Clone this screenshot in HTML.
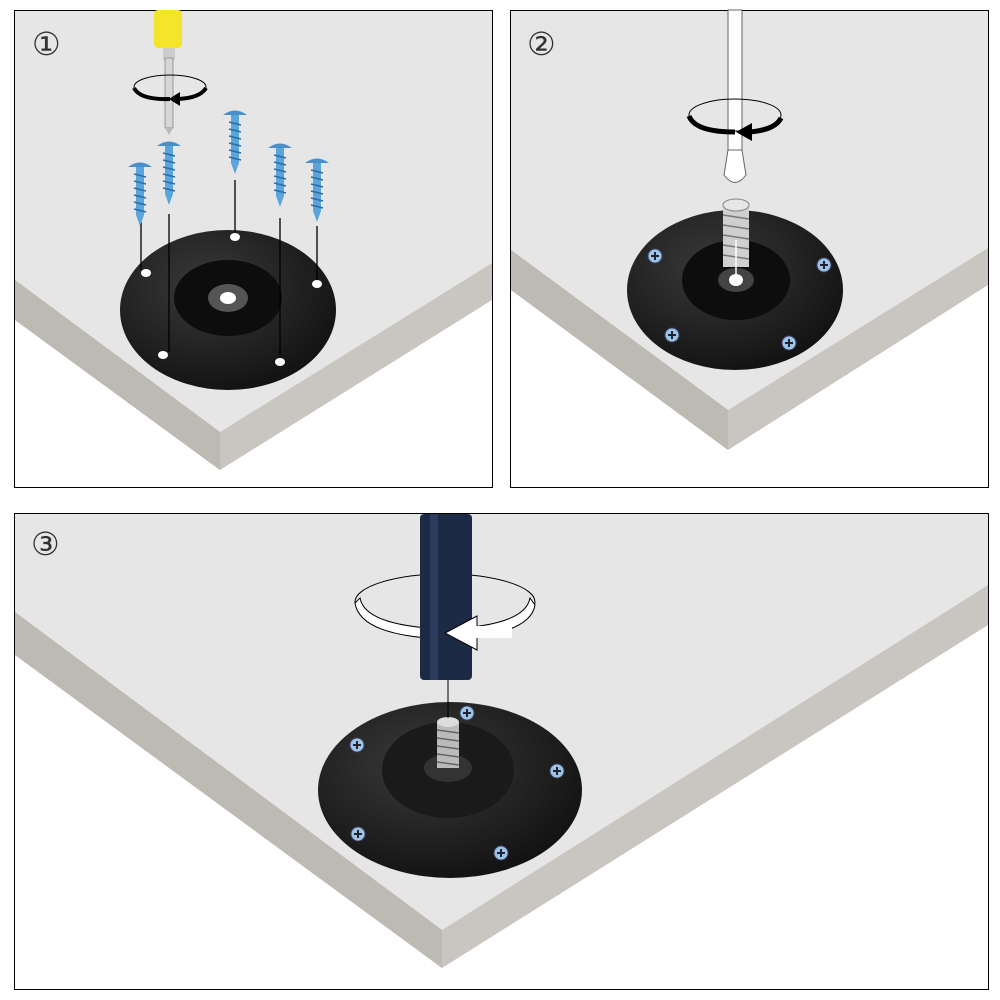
<!DOCTYPE html>
<html><head><style>html,body{margin:0;padding:0;background:#fff}svg{display:block}</style></head><body>
<svg width="1000" height="1000" viewBox="0 0 1000 1000" xmlns="http://www.w3.org/2000/svg">
<defs>
<g id="screw">
 <path d="M-12,3 Q0,-6 12,3 Z" fill="#4a8fc8"/>
 <rect x="-4" y="3" width="8" height="48" fill="#5aa6dc"/>
 <path d="M-4,51 L0,62 L4,51 Z" fill="#5aa6dc"/>
 <g stroke="#2b6ea6" stroke-width="1.5">
  <line x1="-6" y1="10" x2="6" y2="13"/><line x1="-6" y1="17" x2="6" y2="20"/><line x1="-6" y1="24" x2="6" y2="27"/><line x1="-6" y1="31" x2="6" y2="34"/><line x1="-6" y1="38" x2="6" y2="41"/><line x1="-6" y1="45" x2="6" y2="48"/>
 </g>
</g>
<g id="ps">
 <circle r="7" fill="#9cc4e6" stroke="#446" stroke-width="1"/>
 <path d="M-4,0 H4 M0,-4 V4" stroke="#223" stroke-width="2"/>
</g>
<radialGradient id="pl" cx="0.4" cy="0.35" r="0.7"><stop offset="0" stop-color="#3a3a3a"/><stop offset="1" stop-color="#111"/></radialGradient>
</defs>

<!-- Panel 1 -->
<rect x="14.5" y="10.5" width="478" height="477" fill="#fff" stroke="#000"/>
<polygon points="15,11 492,11 492,263 220,432 15,280" fill="#e6e6e6"/>
<polygon points="15,280 220,432 492,263 492,300 220,470 15,320" fill="#c9c5c0"/>
<polygon points="220,432 220,470 15,320 15,280" fill="#bdb9b3"/>
<rect x="14.5" y="10.5" width="478" height="477" fill="none" stroke="#000"/>
<text x="32" y="55" font-family="DejaVu Sans" font-size="32" fill="#333">①</text>
<ellipse cx="228" cy="310" rx="108" ry="80" fill="url(#pl)"/>
<ellipse cx="228" cy="298" rx="54" ry="38" fill="#0d0d0d"/>
<ellipse cx="228" cy="298" rx="20" ry="14" fill="#555"/>
<ellipse cx="228" cy="298" rx="8" ry="6" fill="#fff"/>
<g fill="#fff"><ellipse cx="146" cy="273" rx="5" ry="4"/><ellipse cx="163" cy="355" rx="5" ry="4"/><ellipse cx="235" cy="237" rx="5" ry="4"/><ellipse cx="280" cy="362" rx="5" ry="4"/><ellipse cx="317" cy="284" rx="5" ry="4"/></g>
<g stroke="#000" stroke-width="1.3">
<line x1="141" y1="222" x2="141" y2="270"/><line x1="169" y1="214" x2="169" y2="352"/><line x1="235" y1="180" x2="235" y2="233"/><line x1="280" y1="218" x2="280" y2="358"/><line x1="317" y1="226" x2="317" y2="280"/>
</g>
<use href="#screw" x="140" y="164"/><use href="#screw" x="169" y="143"/><use href="#screw" x="235" y="112"/><use href="#screw" x="280" y="145"/><use href="#screw" x="317" y="160"/>
<rect x="154" y="10" width="28" height="38" rx="4" fill="#f2e52a"/>
<rect x="163" y="48" width="12" height="12" fill="#ccc"/>
<rect x="165" y="58" width="8" height="70" fill="#d6d6d6" stroke="#888" stroke-width="0.8"/>
<path d="M165,128 L169,135 L173,128 Z" fill="#bbb"/>
<ellipse cx="170" cy="87" rx="36" ry="12" fill="none" stroke="#000" stroke-width="1"/>
<path d="M134,88 Q140,100 170,99" fill="none" stroke="#000" stroke-width="4"/>
<path d="M178,99 Q200,98 206,88" fill="none" stroke="#000" stroke-width="4"/>
<path d="M169,99 L180,92 L180,106 Z" fill="#000"/>

<!-- Panel 2 -->
<rect x="510.5" y="10.5" width="478" height="477" fill="#fff" stroke="#000"/>
<polygon points="511,11 988,11 988,248 728,410 511,250" fill="#e6e6e6"/>
<polygon points="511,250 728,410 988,248 988,285 728,450 511,290" fill="#c9c5c0"/>
<polygon points="728,410 728,450 511,290 511,250" fill="#bdb9b3"/>
<rect x="510.5" y="10.5" width="478" height="477" fill="none" stroke="#000"/>
<text x="527" y="55" font-family="DejaVu Sans" font-size="32" fill="#333">②</text>
<ellipse cx="735" cy="290" rx="108" ry="80" fill="url(#pl)"/>
<ellipse cx="736" cy="280" rx="54" ry="40" fill="#0d0d0d"/>
<ellipse cx="736" cy="280" rx="18" ry="12" fill="#444"/>
<ellipse cx="736" cy="280" rx="7" ry="6" fill="#fff"/>
<use href="#ps" x="655" y="256"/><use href="#ps" x="824" y="265"/><use href="#ps" x="672" y="335"/><use href="#ps" x="789" y="343"/>
<rect x="723" y="205" width="26" height="62" fill="#cfcfcf"/>
<g stroke="#777" stroke-width="1.5"><line x1="723" y1="215" x2="749" y2="219"/><line x1="723" y1="225" x2="749" y2="229"/><line x1="723" y1="235" x2="749" y2="239"/><line x1="723" y1="245" x2="749" y2="249"/><line x1="723" y1="255" x2="749" y2="259"/></g>
<ellipse cx="736" cy="205" rx="13" ry="6" fill="#e6e6e6" stroke="#888"/>
<line x1="736" y1="240" x2="736" y2="282" stroke="#fff" stroke-width="1.5"/>
<path d="M731,276 L736,284 L741,276" fill="none" stroke="#fff" stroke-width="1.5"/>
<rect x="728" y="10" width="14" height="140" fill="#fff" stroke="#666"/>
<path d="M728,150 L724,175 Q735,190 746,175 L742,150 Z" fill="#fff" stroke="#666"/>
<ellipse cx="735" cy="115" rx="46" ry="16" fill="none" stroke="#000" stroke-width="1"/>
<path d="M689,116 Q695,132 735,132" fill="none" stroke="#000" stroke-width="5"/>
<path d="M750,132 Q775,130 781,118" fill="none" stroke="#000" stroke-width="5"/>
<path d="M736,132 L752,123 L752,141 Z" fill="#000"/>

<!-- Panel 3 -->
<rect x="14.5" y="513.5" width="974" height="476" fill="#fff" stroke="#000"/>
<polygon points="15,514 988,514 988,585 442,930 15,612" fill="#e6e6e6"/>
<polygon points="15,612 442,930 988,585 988,625 442,968 15,655" fill="#c9c5c0"/>
<polygon points="442,930 442,968 15,655 15,612" fill="#bdb9b3"/>
<rect x="14.5" y="513.5" width="974" height="476" fill="none" stroke="#000"/>
<text x="31" y="555" font-family="DejaVu Sans" font-size="32" fill="#333">③</text>
<ellipse cx="450" cy="790" rx="132" ry="88" fill="url(#pl)"/>
<ellipse cx="448" cy="770" rx="66" ry="48" fill="#1a1a1a"/>
<ellipse cx="448" cy="768" rx="24" ry="14" fill="#333"/>
<rect x="437" y="722" width="22" height="46" fill="#bbb"/>
<g stroke="#666" stroke-width="1.5"><line x1="437" y1="730" x2="459" y2="733"/><line x1="437" y1="738" x2="459" y2="741"/><line x1="437" y1="746" x2="459" y2="749"/><line x1="437" y1="754" x2="459" y2="757"/><line x1="437" y1="762" x2="459" y2="765"/></g>
<ellipse cx="448" cy="722" rx="11" ry="5" fill="#ddd"/>
<use href="#ps" x="467" y="713"/><use href="#ps" x="357" y="745"/><use href="#ps" x="557" y="771"/><use href="#ps" x="358" y="834"/><use href="#ps" x="501" y="853"/>
<line x1="448" y1="680" x2="448" y2="718" stroke="#000" stroke-width="1"/>
<ellipse cx="445" cy="602" rx="90" ry="28" fill="none" stroke="#000" stroke-width="1"/>
<path d="M355,603 Q360,636 445,639 Q530,636 535,605 L530,598 Q525,626 445,629 Q365,626 360,598 Z" fill="#fff" stroke="#000"/>
<rect x="420" y="514" width="52" height="166" rx="4" fill="#1c2a45"/>
<rect x="430" y="514" width="8" height="166" fill="#2c3d5e"/>
<path d="M445,633 L477,616 L477,650 Z" fill="#fff" stroke="#000"/>
<rect x="472" y="626" width="40" height="12" fill="#fff"/>
</svg>
</body></html>
